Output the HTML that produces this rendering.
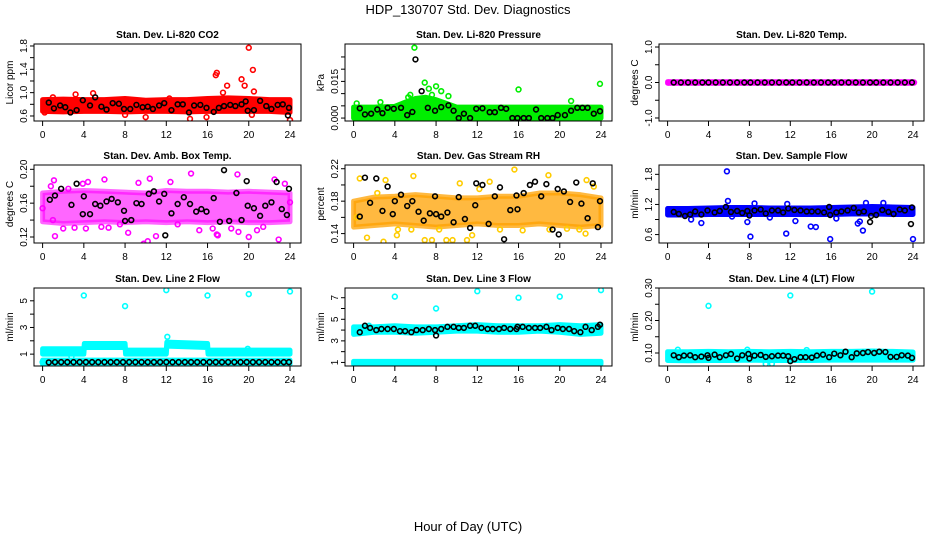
<!DOCTYPE html>
<html><head><meta charset="utf-8">
<style>
html,body{margin:0;padding:0;background:#fff;}
svg{display:block;font-family:"Liberation Sans",Arial,sans-serif;}
</style></head>
<body>
<svg id="chart" width="936" height="540" viewBox="0 0 936 540" xmlns="http://www.w3.org/2000/svg">
<text x="468" y="14" text-anchor="middle" font-size="13">HDP_130707  Std. Dev. Diagnostics</text>
<text x="468" y="531" text-anchor="middle" font-size="13">Hour of Day (UTC)</text>
</svg>
<script>
// ---------- shared ----------
const xTicks = [0,4,8,12,16,20,24];
// ---------- P1 CO2 ----------
const p1BandH = [0,2,4,6,8,10,12,14,16,18,20,22,24];
const p1BandLo = [0.68,0.67,0.68,0.68,0.67,0.68,0.68,0.67,0.68,0.68,0.68,0.68,0.66];
const p1BandHi = [0.88,0.89,0.88,0.88,0.90,0.87,0.88,0.88,0.90,0.91,0.90,0.88,0.88];
const p1PtsH = [1,3.2,4.9,10,14.3,15.9,16.8,16.9,17.5,17.9,19.3,19.6,20,20.3,20.4,20.5,24,8,0.2,12.3];
const p1PtsV = [0.92,0.97,0.99,0.58,0.55,0.58,1.30,1.34,1.00,1.12,1.23,1.12,1.77,0.62,1.39,1.02,0.53,0.62,0.66,0.90];
const p1BlkH = [0.6,1.1,1.7,2.2,2.7,3.3,3.9,4.6,5.1,5.7,6.2,6.8,7.4,7.9,8.5,9.1,9.7,10.2,10.7,11.3,11.8,12.5,13.1,13.6,14.2,14.7,15.3,15.9,16.6,17.1,17.6,18.2,18.7,19.3,19.7,19.9,20.5,21.1,21.7,22.2,22.8,23.3,23.8,23.9];
const p1BlkV = [0.83,0.73,0.78,0.75,0.66,0.70,0.87,0.78,0.92,0.76,0.71,0.82,0.81,0.72,0.72,0.79,0.75,0.76,0.72,0.78,0.82,0.70,0.80,0.80,0.66,0.78,0.79,0.74,0.67,0.74,0.77,0.79,0.77,0.80,0.85,0.69,0.70,0.86,0.77,0.72,0.79,0.80,0.61,0.74];
// ---------- P2 Pressure ----------
const p2BandH = [0,2,4,5,6,7,8,9,10,12,14,16,18,20,22,24];
const p2BandLo = [0.0000,0.0000,0.0000,0.0000,0.0000,0.0000,0.0000,0.0000,0.0000,0.0000,0.0000,0.0000,0.0000,0.0000,0.0000,0.0000];
const p2BandHi = [0.0045,0.0045,0.0048,0.0065,0.0080,0.0085,0.0075,0.0060,0.0045,0.0045,0.0045,0.0045,0.0045,0.0045,0.0045,0.0045];
const p2PtsH = [0.3,2.6,5.3,5.9,6.3,6.9,7.3,8.0,8.5,9.2,16,21.1,23.9,5.5,7.6];
const p2PtsV = [0.0060,0.0065,0.0085,0.0288,0.0010,0.0145,0.0120,0.0130,0.0110,0.0090,0.0117,0.0070,0.0140,0.0095,0.0095];
const p2BlkH = [0.6,1.1,1.7,2.3,2.8,3.3,3.9,4.6,5.2,5.7,6.0,6.6,7.2,7.9,8.5,9.2,9.7,10.2,10.7,11.3,11.9,12.5,13.2,13.7,14.3,14.8,15.4,15.9,16.5,17.0,17.7,18.2,18.8,19.3,19.8,20.5,21.1,21.7,22.2,22.7,23.3,23.9];
const p2BlkV = [0.0040,0.0015,0.0018,0.0035,0.0020,0.0042,0.0038,0.0042,0.0012,0.0025,0.0240,0.0110,0.0042,0.0030,0.0045,0.0052,0.0030,0.0000,0.0018,0.0000,0.0038,0.0040,0.0024,0.0024,0.0042,0.0038,0.0000,0.0000,0.0000,0.0000,0.0035,0.0000,0.0000,0.0000,0.0012,0.0012,0.0030,0.0042,0.0042,0.0042,0.0018,0.0028];
// ---------- P3 Temp ----------
const p3BandH = [0,24];
const p3BandLo = [-0.02,-0.02];
const p3BandHi = [0.02,0.02];
const p3PtsH = [0.1,24.1];
const p3PtsV = [0,0];
const p3BlkH = [0.6,1.3,2,2.7,3.4,4,4.7,5.4,6.1,6.8,7.5,8.1,8.8,9.5,10.2,10.9,11.6,12.2,12.9,13.6,14.3,15,15.7,16.3,17,17.7,18.4,19.1,19.8,20.4,21.1,21.8,22.5,23.2,23.9];
const p3BlkV = [0,0,0,0,0,0,0,0,0,0,0,0,0,0,0,0,0,0,0,0,0,0,0,0,0,0,0,0,0,0,0,0,0,0,0];
// ---------- P4 Amb Box Temp ----------
const p4BandH = [0,2,4,6,8,10,12,14,16,18,20,22,24];
const p4BandLo = [0.138,0.136,0.137,0.138,0.137,0.138,0.137,0.138,0.137,0.138,0.137,0.137,0.138];
const p4BandHi = [0.172,0.174,0.175,0.174,0.173,0.172,0.175,0.174,0.174,0.173,0.174,0.173,0.172];
const p4PtsH = [0,1.1,1.2,2.5,3.9,4.4,6,9.3,10.4,12.4,14.4,16.9,18.9,19,20,22.5,23.5,1,2,3.1,5.7,6.4,7.5,8.3,10.2,11.0,13.1,15.2,17.0,18.3,21.4,22.9,0.8,4.2,9.8,16.5,20.8,24];
const p4PtsV = [0.154,0.187,0.121,0.177,0.183,0.185,0.188,0.184,0.189,0.185,0.195,0.123,0.194,0.126,0.120,0.188,0.183,0.140,0.130,0.131,0.132,0.131,0.135,0.125,0.115,0.121,0.135,0.128,0.122,0.130,0.132,0.117,0.180,0.130,0.112,0.130,0.128,0.161];
const p4BlkH = [0.7,1.2,1.8,2.8,3.3,3.9,4,4.6,5.1,5.6,6.2,6.7,7.3,7.9,8.0,8.6,9.1,9.6,10.3,10.8,11.3,11.8,11.9,12.5,13.1,13.7,14.3,14.9,15.4,15.9,16.6,17.2,17.6,18.1,18.8,19.3,19.8,19.9,20.5,21.1,21.6,22.2,22.7,23.2,23.7,23.9];
const p4BlkV = [0.164,0.169,0.177,0.158,0.183,0.147,0.168,0.147,0.159,0.157,0.162,0.165,0.161,0.151,0.139,0.140,0.160,0.159,0.171,0.174,0.162,0.171,0.122,0.148,0.159,0.167,0.159,0.150,0.153,0.150,0.166,0.138,0.199,0.139,0.172,0.140,0.186,0.157,0.154,0.145,0.157,0.161,0.185,0.153,0.146,0.177];
// ---------- P5 Gas Stream RH ----------
const p5BandH = [0,2,4,6,8,10,12,14,16,18,20,22,24];
const p5BandLo = [0.148,0.150,0.152,0.150,0.148,0.150,0.152,0.150,0.150,0.152,0.150,0.148,0.150];
const p5BandHi = [0.180,0.185,0.186,0.188,0.186,0.184,0.184,0.186,0.186,0.190,0.190,0.188,0.184];
const p5PtsH = [0.6,1.3,2.9,4.2,4.3,5.8,6.9,7.6,9.0,9.6,10.3,11.5,13.2,14.2,15.6,18.9,19.0,21.9,22.5,23.3,2.3,3.1,5.6,11.0,12.2,16.4,20.7,22.6,0.3,8.3];
const p5PtsV = [0.208,0.135,0.130,0.138,0.145,0.211,0.132,0.132,0.132,0.132,0.202,0.138,0.204,0.145,0.219,0.212,0.145,0.145,0.140,0.198,0.190,0.206,0.145,0.132,0.195,0.144,0.146,0.206,0.160,0.145];
const p5BlkH = [0.6,1.1,1.6,2.2,2.8,3.3,3.8,4.0,4.6,5.2,5.7,6.3,6.8,7.4,7.9,8.0,8.5,9.1,9.7,10.2,10.8,11.3,11.8,11.9,12.5,13.1,13.7,14.2,14.6,15.2,15.8,15.9,16.5,17.1,17.6,18.2,18.7,19.3,19.8,19.9,20.4,21.0,21.6,22.1,22.7,23.2,23.7,23.9];
const p5BlkV = [0.161,0.209,0.178,0.208,0.168,0.198,0.164,0.180,0.188,0.174,0.180,0.167,0.156,0.165,0.186,0.164,0.161,0.166,0.154,0.185,0.158,0.147,0.175,0.202,0.200,0.152,0.186,0.197,0.133,0.169,0.187,0.170,0.190,0.200,0.204,0.186,0.201,0.145,0.195,0.139,0.192,0.179,0.203,0.177,0.159,0.202,0.148,0.180];
// ---------- P6 Sample Flow ----------
const p6BandH = [0,2,4,6,8,10,12,14,16,18,20,22,24];
const p6BandLo = [0.99,0.99,1.00,1.00,1.00,1.00,1.00,1.00,1.00,1.01,1.01,1.00,1.00];
const p6BandHi = [1.12,1.12,1.13,1.14,1.14,1.13,1.13,1.13,1.14,1.15,1.16,1.15,1.14];
const p6PtsH = [3.3,5.8,5.9,7.8,8.1,8.5,11.7,11.6,12.5,14,14.5,15.9,18.6,18.8,19.1,19.4,21.1,24,2.3,10,6.3,16.5,23.9];
const p6PtsV = [0.83,1.86,1.27,0.85,0.56,1.22,1.21,0.62,0.87,0.76,0.75,0.51,0.82,0.86,0.68,1.23,1.23,0.51,0.90,0.94,0.96,0.92,1.10];
const p6BlkH = [0.6,1.1,1.7,2.2,2.7,3.3,3.9,4.6,5.1,5.7,6.2,6.8,7.3,7.8,8.0,8.5,9.1,9.6,10.2,10.8,11.3,11.8,12.4,13.0,13.6,14.1,14.7,15.3,15.8,15.9,16.5,17.0,17.6,18.2,18.7,19.2,19.8,19.9,20.4,21.0,21.6,22.1,22.7,23.2,23.8,23.9];
const p6BlkV = [1.05,1.01,0.97,1.00,1.06,1.00,1.08,1.04,1.07,1.15,1.05,1.07,1.03,1.07,0.98,1.08,1.10,1.02,1.08,1.08,1.04,1.12,1.09,1.08,1.06,1.06,1.06,1.04,1.15,0.99,1.04,1.06,1.08,1.13,1.04,1.06,0.85,0.97,0.99,1.09,1.05,1.01,1.10,1.08,0.81,1.14];
// ---------- P7 Line 2 Flow ----------
const p7BandH = [0,4,4.05,8,8.05,12,12.05,16,16.05,24];
const p7BandLo = [1.0,1.0,1.5,1.5,1.0,1.0,1.6,1.5,1.0,1.0];
const p7BandHi = [1.4,1.4,1.8,1.8,1.3,1.3,1.9,1.8,1.3,1.3];
const p7Band2H = [0,24];
const p7Band2Lo = [0.25,0.25];
const p7Band2Hi = [0.55,0.55];
const p7PtsH = [4,8,12,16,20,24,12.1,0,2.8,19.9];
const p7PtsV = [5.4,4.6,5.8,5.4,5.5,5.7,2.3,0.4,0.8,1.4];
const p7BlkH = [0.6,1.2,1.8,2.4,3.0,3.6,4.2,4.8,5.4,6.0,6.6,7.2,7.8,8.4,9.0,9.6,10.2,10.8,11.4,12.0,12.6,13.2,13.8,14.4,15.0,15.6,16.2,16.8,17.4,18.0,18.6,19.2,19.8,20.4,21.0,21.6,22.2,22.8,23.4,23.9];
const p7BlkV = [0.38,0.40,0.40,0.40,0.40,0.40,0.40,0.40,0.40,0.40,0.40,0.40,0.40,0.40,0.40,0.40,0.40,0.40,0.40,0.40,0.40,0.40,0.40,0.40,0.40,0.40,0.40,0.40,0.40,0.40,0.40,0.40,0.40,0.40,0.40,0.40,0.40,0.40,0.40,0.40];
// ---------- P8 Line 3 Flow ----------
const p8BandH = [0,2,4,6,8,10,12,14,16,18,20,22,24];
const p8BandLo = [3.6,3.8,3.8,3.7,3.8,3.9,3.9,3.8,3.8,3.9,3.8,3.6,3.7];
const p8BandHi = [4.3,4.3,4.4,4.3,4.3,4.4,4.5,4.4,4.4,4.4,4.5,4.4,4.5];
const p8Band2H = [0,24];
const p8Band2Lo = [0.85,0.85];
const p8Band2Hi = [1.1,1.1];
const p8PtsH = [4,8,12,16,20,24,0.1,1.5];
const p8PtsV = [7.1,6.0,7.6,7.0,7.1,7.7,4.2,4.4];
const p8BlkH = [0.6,1.1,1.6,2.2,2.7,3.3,3.9,4.5,5.0,5.6,6.1,6.7,7.3,7.9,8.0,8.5,9.1,9.7,10.2,10.7,11.3,11.8,12.4,13.0,13.5,14.1,14.6,15.2,15.8,15.9,16.4,17.0,17.6,18.1,18.7,19.2,19.8,20.3,20.9,21.4,22.0,22.5,23.1,23.7,23.9];
const p8BlkV = [3.8,4.4,4.2,4.0,4.1,4.1,4.1,3.9,3.9,3.8,4.0,4.0,4.1,4.0,3.5,4.1,4.3,4.3,4.2,4.2,4.4,4.4,4.2,4.1,4.1,4.1,4.2,4.1,4.1,4.3,4.3,4.2,4.2,4.2,4.3,4.0,4.2,4.1,4.1,3.9,3.8,4.3,4.0,4.3,4.5];
// ---------- P9 Line 4 Flow ----------
const p9BandH = [0,2,4,6,8,10,12,14,16,18,20,22,24];
const p9BandLo = [0.077,0.076,0.077,0.077,0.078,0.077,0.077,0.077,0.078,0.078,0.078,0.078,0.078];
const p9BandHi = [0.104,0.104,0.105,0.104,0.105,0.104,0.105,0.104,0.105,0.105,0.106,0.105,0.103];
const p9PtsH = [4,12,20,10.2,7.8,1.0,9.6,13.6];
const p9PtsV = [0.245,0.277,0.289,0.067,0.110,0.110,0.066,0.109];
const p9BlkH = [0.6,1.1,1.6,2.2,2.7,3.3,3.9,4.0,4.6,5.1,5.7,6.2,6.8,7.3,7.9,8.0,8.5,9.1,9.6,10.2,10.8,11.3,11.8,12.0,12.4,13.0,13.5,14.1,14.6,15.2,15.8,16.3,16.9,17.4,18.0,18.5,19.1,19.6,20.2,20.7,21.3,21.8,22.4,22.9,23.5,23.9];
const p9BlkV = [0.093,0.087,0.092,0.093,0.087,0.089,0.093,0.085,0.095,0.087,0.093,0.097,0.083,0.093,0.097,0.083,0.092,0.094,0.088,0.090,0.092,0.092,0.090,0.075,0.081,0.087,0.087,0.086,0.092,0.095,0.087,0.098,0.093,0.104,0.087,0.099,0.100,0.103,0.100,0.104,0.103,0.088,0.088,0.093,0.092,0.085];

// ---------- layout ----------
const NS = 'http://www.w3.org/2000/svg';
const svg = document.getElementById('chart');
function mk(tag, attrs, parent){const e=document.createElementNS(NS,tag);for(const k in attrs)e.setAttribute(k,attrs[k]);(parent||svg).appendChild(e);return e;}

const panels = [
 {id:'co2',title:'Stan. Dev. Li-820 CO2',ylab:'Licor ppm',col:0,row:0,ymin:0.514,ymax:1.834,ticks:[0.6,0.8,1.0,1.2,1.4,1.6,1.8],labels:['0.6','','1.0','','1.4','','1.8'],color:'#ff0000',bands:[[p1BandH,p1BandLo,p1BandHi]],pts:[p1PtsH,p1PtsV],blk:[p1BlkH,p1BlkV]},
 {id:'pressure',title:'Stan. Dev. Li-820 Pressure',ylab:'kPa',col:1,row:0,ymin:-0.0012,ymax:0.0303,ticks:[0,0.005,0.01,0.015,0.02,0.025],labels:['0.000','','','0.015','',''],color:'#00ee00',bands:[[p2BandH,p2BandLo,p2BandHi]],pts:[p2PtsH,p2PtsV],blk:[p2BlkH,p2BlkV]},
 {id:'temp',title:'Stan. Dev. Li-820 Temp.',ylab:'degrees C',col:2,row:0,ymin:-1.085,ymax:1.085,ticks:[-1,-0.5,0,0.5,1],labels:['-1.0','','0.0','','1.0'],color:'#ff00ff',bands:[[p3BandH,p3BandLo,p3BandHi]],pts:[p3PtsH,p3PtsV],blk:[p3BlkH,p3BlkV]},
 {id:'amb-temp',title:'Stan. Dev. Amb. Box Temp.',ylab:'degrees C',col:0,row:1,ymin:0.1129,ymax:0.2051,ticks:[0.12,0.14,0.16,0.18,0.20],labels:['0.12','','0.16','','0.20'],color:'#ff00ff',bandOpacity:0.6,bands:[[p4BandH,p4BandLo,p4BandHi]],pts:[p4PtsH,p4PtsV],blk:[p4BlkH,p4BlkV]},
 {id:'rh',title:'Stan. Dev. Gas Stream RH',ylab:'percent',col:1,row:1,ymin:0.1284,ymax:0.2246,ticks:[0.14,0.16,0.18,0.20,0.22],labels:['0.14','','0.18','','0.22'],color:'#ffa200',ptColor:'#ffcc00',bandOpacity:0.75,bands:[[p5BandH,p5BandLo,p5BandHi]],pts:[p5PtsH,p5PtsV],blk:[p5BlkH,p5BlkV]},
 {id:'sample-flow',title:'Stan. Dev. Sample Flow',ylab:'ml/min',col:2,row:1,ymin:0.432,ymax:1.986,ticks:[0.6,0.9,1.2,1.5,1.8],labels:['0.6','','1.2','','1.8'],color:'#0000ff',bands:[[p6BandH,p6BandLo,p6BandHi]],pts:[p6PtsH,p6PtsV],blk:[p6BlkH,p6BlkV]},
 {id:'line2',title:'Stan. Dev. Line 2 Flow',ylab:'ml/min',col:0,row:2,ymin:0.11,ymax:5.96,ticks:[1,2,3,4,5],labels:['1','','3','','5'],color:'#00ffff',bands:[[p7BandH,p7BandLo,p7BandHi],[p7Band2H,p7Band2Lo,p7Band2Hi]],pts:[p7PtsH,p7PtsV],blk:[p7BlkH,p7BlkV]},
 {id:'line3',title:'Stan. Dev. Line 3 Flow',ylab:'ml/min',col:1,row:2,ymin:0.67,ymax:7.9,ticks:[1,2,3,4,5,6,7],labels:['1','','3','','5','','7'],color:'#00ffff',bands:[[p8BandH,p8BandLo,p8BandHi],[p8Band2H,p8Band2Lo,p8Band2Hi]],pts:[p8PtsH,p8PtsV],blk:[p8BlkH,p8BlkV]},
 {id:'line4',title:'Stan. Dev. Line 4 (LT) Flow',ylab:'ml/min',col:2,row:2,ymin:0.06,ymax:0.30,ticks:[0.10,0.15,0.20,0.25,0.30],labels:['0.10','','0.20','','0.30'],color:'#00ffff',bands:[[p9BandH,p9BandLo,p9BandHi]],pts:[p9PtsH,p9PtsV],blk:[p9BlkH,p9BlkV]}
];
const colLeft=[34,345,659], colRight=[301,612,924];
const rowTop=[44,165,288], rowBot=[121,243,366];

panels.forEach(p=>{
  const L=colLeft[p.col], R=colRight[p.col], T=rowTop[p.row], B=rowBot[p.row];
  const x0=L+8.6, x24=R-11;
  const X=h=>x0+(x24-x0)*h/24;
  const Y=v=>B-(v-p.ymin)/(p.ymax-p.ymin)*(B-T);
  const g=mk('g',{});
  
  
  const cp=mk('clipPath',{id:'clip-'+p.id},g);
  mk('rect',{x:L,y:T,width:R-L,height:B-T},cp);
  // title
  const t=mk('text',{x:(L+R)/2,y:T-6,'text-anchor':'middle','font-size':'10','font-weight':'bold'},g);
  t.textContent=p.title;
  
  
  // ylab
  const yl=mk('text',{x:0,y:0,'text-anchor':'middle','font-size':'10',transform:`translate(${L-21},${(T+B)/2}) rotate(-90)`},g);
  yl.textContent=p.ylab;
  
  
  // data
  const dg=mk('g',{'clip-path':`url(#clip-${p.id})`},g);
  
  
  p.bands.forEach(b=>{
    const [H,lo,hi]=b;
    let pts=H.map((h,i)=>X(h)+','+Y(hi[i]));
    for(let i=H.length-1;i>=0;i--)pts.push(X(H[i])+','+Y(lo[i]));
    const pg=mk('polygon',{points:pts.join(' '),fill:p.color,stroke:p.color,'stroke-width':5,'stroke-linejoin':'round','fill-opacity':p.bandOpacity||1,'stroke-opacity':p.bandOpacity||1},dg);
    
    
  });
  const [ph,pv]=p.pts;
  ph.forEach((h,i)=>{
    const c=mk('circle',{cx:X(h),cy:Y(pv[i]),r:2.4,fill:'none',stroke:p.ptColor||p.color,'stroke-width':1.6},dg);
    
    
  });
  const [bh,bv]=p.blk;
  bh.forEach((h,i)=>{
    const c=mk('circle',{cx:X(h),cy:Y(bv[i]),r:2.4,fill:'none',stroke:'#000','stroke-width':1.6},dg);
    
    
  });
  // box
  const bx=mk('rect',{x:L,y:T,width:R-L,height:B-T,fill:'none',stroke:'#000','stroke-width':1},g);
  
  
  // y ticks
  mk('line',{x1:L,x2:L,y1:Y(p.ticks[0]),y2:Y(p.ticks[p.ticks.length-1]),stroke:'#000'},g);
  p.ticks.forEach((v,i)=>{
    mk('line',{x1:L-4,x2:L,y1:Y(v),y2:Y(v),stroke:'#000'},g);
    if(p.labels[i]){
      const tl=mk('text',{x:0,y:0,'text-anchor':'middle','font-size':'10',transform:`translate(${L-7},${Y(v)}) rotate(-90)`},g);
      tl.textContent=p.labels[i];
      
      
    }
  });
  // x ticks
  xTicks.forEach(h=>{
    mk('line',{x1:X(h),x2:X(h),y1:B,y2:B+5,stroke:'#000'},g);
    const tl=mk('text',{x:X(h),y:B+17,'text-anchor':'middle','font-size':'10'},g);
    tl.textContent=String(h);
    
    
  });
});
</script>
</body></html>
